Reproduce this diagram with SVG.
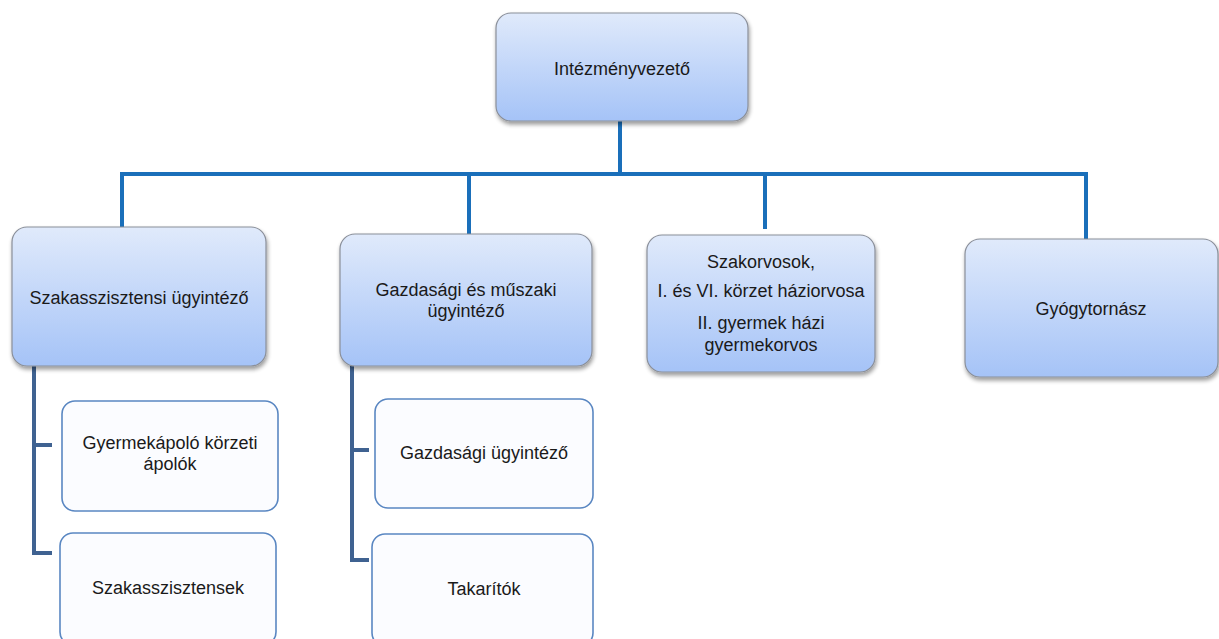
<svg xmlns="http://www.w3.org/2000/svg" width="1219" height="639" viewBox="0 0 1219 639">
<style>
.p{fill:url(#g);stroke:#8a8f99;stroke-width:1.2;filter:url(#sh)}
.c{fill:#fbfcff;stroke:#5a87c2;stroke-width:1.6}
.t{font-family:"Liberation Sans",Arial,sans-serif;font-size:18px;fill:#1a1a1a;text-anchor:middle}
.bus{stroke:#1a6fba;stroke-width:4;fill:none}
.br{stroke:#3f6291;stroke-width:4;fill:none}
</style>
<defs>
<linearGradient id="g" x1="0" y1="0" x2="0" y2="1">
<stop offset="0" stop-color="#e0eafb"/>
<stop offset="1" stop-color="#a5c3f7"/>
</linearGradient>
<filter id="sh" x="-10%" y="-10%" width="130%" height="130%">
<feGaussianBlur in="SourceAlpha" stdDeviation="2"/>
<feOffset dx="1" dy="3" result="b"/>
<feComponentTransfer><feFuncA type="linear" slope="0.4"/></feComponentTransfer>
<feMerge><feMergeNode/><feMergeNode in="SourceGraphic"/></feMerge>
</filter>
</defs>
<rect width="1219" height="639" fill="#ffffff"/>
<g id="connectors">
<path class="bus" d="M620 121V174M122 174H1086M122 172V228M469 172V235M765 172V229M1086 172V239"/>
<path class="br" d="M34 366V553H52M34 445H52"/>
<path class="br" d="M352 366V560H369M352 450H369"/>
</g>
<g id="n-intezmenyvezeto">
<rect class="p" x="496" y="13" width="252" height="108" rx="15"/>
<text class="t" x="622" y="75">Intézményvezető</text>
</g>
<g id="n-szakasszisztensi">
<rect class="p" x="12" y="227" width="254" height="139" rx="15"/>
<text class="t" x="139" y="304">Szakasszisztensi ügyintéző</text>
</g>
<g id="n-gazdasagi-muszaki">
<rect class="p" x="340" y="234" width="252" height="132" rx="15"/>
<text class="t" x="466" y="296">Gazdasági és műszaki</text>
<text class="t" x="466" y="317">ügyintéző</text>
</g>
<g id="n-szakorvosok">
<rect class="p" x="647" y="235" width="228" height="137" rx="15"/>
<text class="t" x="761" y="268">Szakorvosok,</text>
<text class="t" x="761" y="297">I. és VI. körzet háziorvosa</text>
<text class="t" x="761" y="329">II. gyermek házi</text>
<text class="t" x="761" y="351">gyermekorvos</text>
</g>
<g id="n-gyogytornasz">
<rect class="p" x="965" y="239" width="253" height="138" rx="15"/>
<text class="t" x="1091" y="315">Gyógytornász</text>
</g>
<g id="n-gyermekapolo">
<rect class="c" x="62" y="401" width="216" height="110" rx="13"/>
<text class="t" x="170" y="449">Gyermekápoló körzeti</text>
<text class="t" x="170" y="470">ápolók</text>
</g>
<g id="n-szakasszisztensek">
<rect class="c" x="60" y="533" width="216" height="112" rx="13"/>
<text class="t" x="168" y="594">Szakasszisztensek</text>
</g>
<g id="n-gazdasagi-ugyintezo">
<rect class="c" x="375" y="399" width="218" height="109" rx="13"/>
<text class="t" x="484" y="459">Gazdasági ügyintéző</text>
</g>
<g id="n-takaritok">
<rect class="c" x="372" y="534" width="221" height="112" rx="13"/>
<text class="t" x="484" y="595">Takarítók</text>
</g>
</svg>
